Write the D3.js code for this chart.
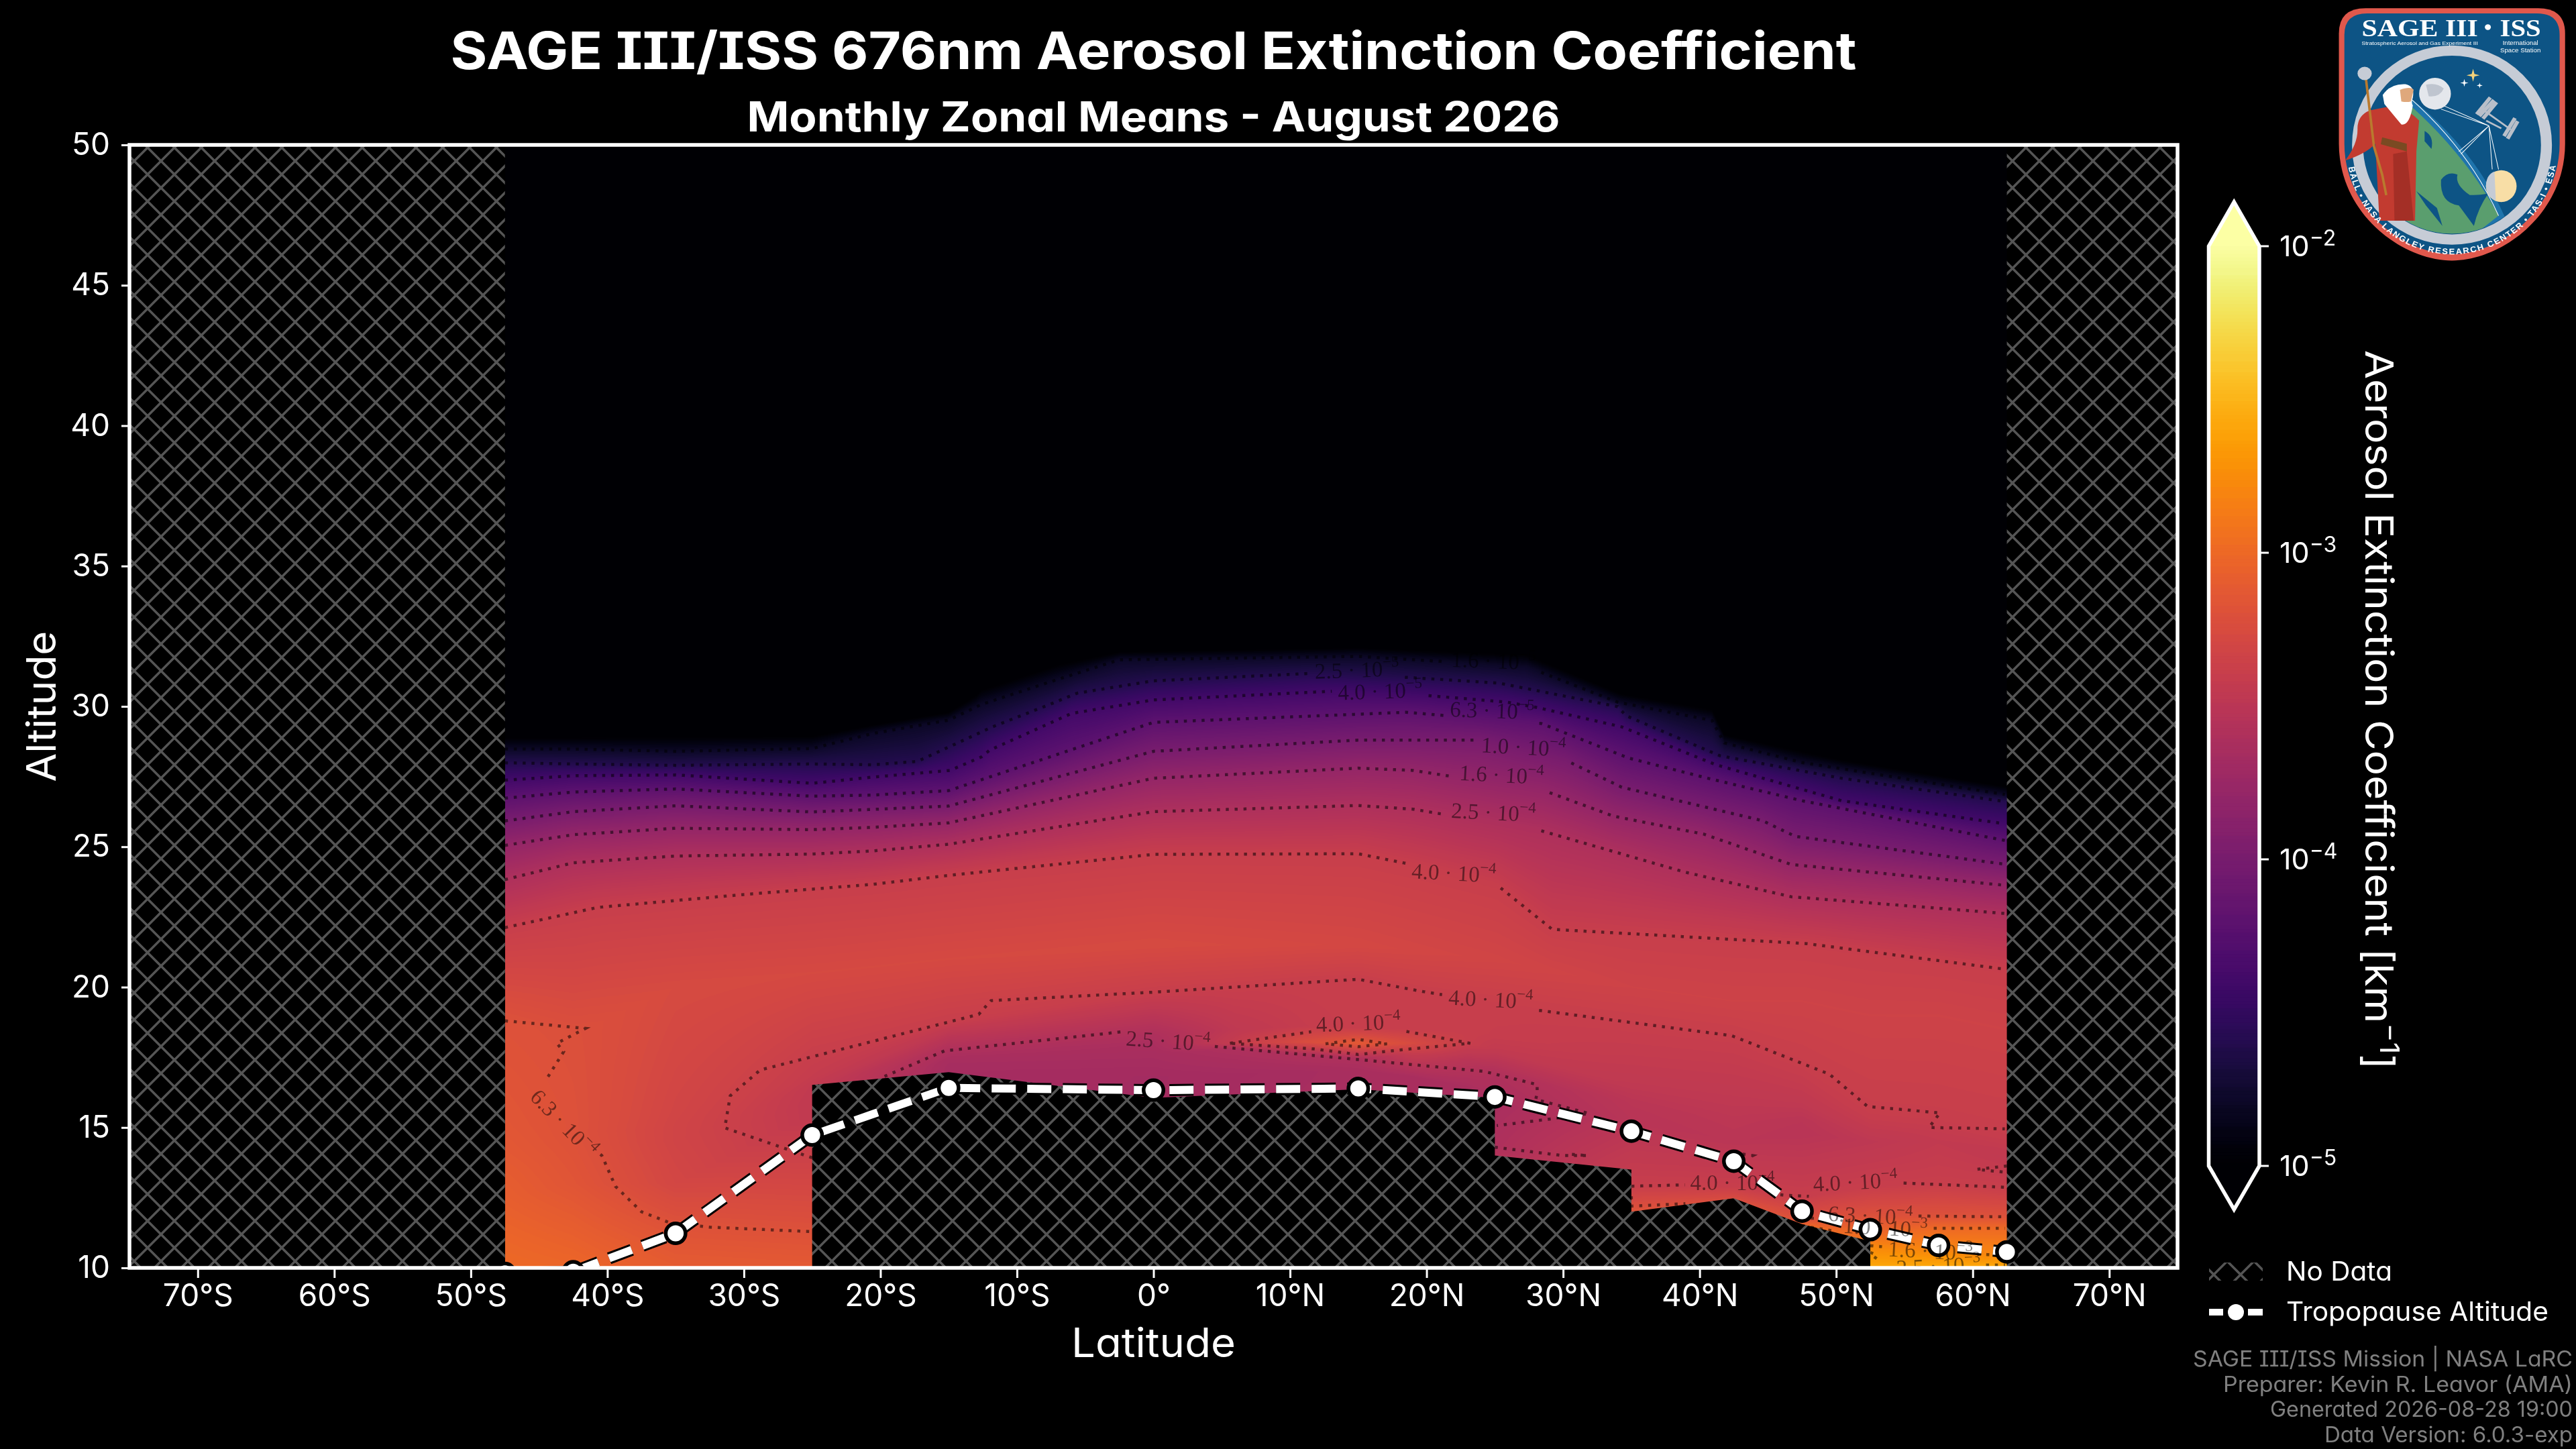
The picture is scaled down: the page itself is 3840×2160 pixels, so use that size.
<!DOCTYPE html>
<html lang="en">
<head>
<meta charset="UTF-8">
<title>SAGE III/ISS 676nm Aerosol Extinction Coefficient</title>
<script src="https://d3js.org/d3.v7.min.js"></script>
<style>
  html, body { margin: 0; background: #000; }
  #chart { position: relative; width: 3840px; height: 2160px; overflow: hidden; }
  canvas, svg { position: absolute; left: 0; top: 0; }
  text { font-family: Inter, "Noto Sans", sans-serif; font-feature-settings: "cv11" 1, "cv08" 1; fill: #fff; }
  .axis path { display: none; }
  .axis line { stroke: #fff; stroke-width: 3; }
  .axis text { font-size: 46px; }
  text.math { font-family: "Liberation Serif", serif; font-feature-settings: normal; fill: rgba(0,0,0,0.5); font-size: 33px; }
</style>
</head>
<body>
<div id="chart"></div>
<script>
// ---- tick labels ----
var latTicks = [-70, -60, -50, -40, -30, -20, -10, 0, 10, 20, 30, 40, 50, 60, 70];
var altTicks = [10, 15, 20, 25, 30, 35, 40, 45, 50];
var barTicks = [1e-5, 1e-4, 1e-3, 1e-2];

// ---- tropopause ----
var tropLat = [-47.5, -42.5, -35, -25, -15, 0, 15, 25, 35, 42.5, 47.5, 52.5, 57.5, 62.5];
var tropAlt = [9.8, 9.86, 11.23, 14.73, 16.41, 16.33, 16.39, 16.09, 14.87, 13.8, 12.02, 11.36, 10.8, 10.57];

// ---- no-data floor, lat/alt ----
var floorOutline = [[-25, 10], [-25, 16.52], [-15, 16.97], [0, 16.06], [15, 16.36], [25, 16.06], [25, 14], [35, 13.5], [35, 12], [42.5, 12.48], [47.5, 11.56], [52.5, 10.95], [52.5, 10]];

// ---- upper contours, top to bottom ----
var upperLevels = [1.6e-5, 2.5e-5, 4e-5, 6.3e-5, 1e-4, 1.6e-4, 2.5e-4, 4e-4];
var upperNames = ["1.6-5", "2.5-5", "4.0-5", "6.3-5", "1.0-4", "1.6-4", "2.5-4", "4.0-4"];
var fadeLine = [[-47.5, 28.9], [-25, 28.95], [-20.6, 29.35], [-15, 29.8], [-13, 30.4], [-12.6, 30.6], [-7, 31.5], [-2.5, 31.95], [15, 32.1], [27.3, 31.85], [34.3, 30.45], [40.9, 29.9], [41.8, 29], [50.4, 28.1], [62.5, 27.15]];
var upperLines = [
  [[-47.5, 28.48], [-42.5, 28.48], [-35, 28.4], [-25, 28.5], [-20.6, 29.03], [-15, 29.51], [-12.6, 30.07], [-7.6, 30.87], [-2.5, 31.66], [15, 31.78], [27.3, 31.42], [34, 30.15], [40.9, 29.5], [41.8, 28.7], [47.5, 28], [62.5, 26.85]],
  [[-47.5, 27.99], [-42.5, 27.95], [-35, 27.9], [-25, 27.95], [-20.6, 27.92], [-17.3, 28.04], [-14.6, 28.64], [-11.8, 29.27], [-7.6, 30.07], [-5.6, 30.47], [0, 30.91], [11.7, 31.18], [18.7, 31.03], [25.3, 30.83], [34, 29.99], [34.6, 29.67], [41.5, 28.24], [50.4, 27.44], [62.5, 26.6]],
  [[-47.5, 27.37], [-42.5, 27.53], [-35, 27.56], [-25, 27.26], [-20.6, 27.48], [-14.9, 27.72], [-12.6, 28.2], [-12, 28.44], [-6, 29.75], [0, 30.23], [13.5, 30.55], [20, 30.39], [25.9, 30.15], [28.2, 29.95], [34.3, 29.27], [41.2, 27.92], [50.4, 26.64], [62.5, 25.81]],
  [[-47.5, 26.73], [-42.5, 26.95], [-35, 27.06], [-25, 26.8], [-20.6, 26.84], [-15, 27], [0, 29.43], [18.5, 29.79], [28.4, 29.39], [34.8, 28.16], [40.6, 27.44], [47.5, 26.64], [62.5, 25.21]],
  [[-47.5, 25.92], [-42.5, 26.25], [-35, 26.46], [-25, 26.24], [-20.6, 26.33], [-15, 26.45], [0, 28.4], [15, 28.8], [23.9, 28.8], [30.2, 28.08], [34.3, 27.12], [44.6, 25.93], [47, 25.37], [62.5, 24.37]],
  [[-47.5, 25.05], [-42.5, 25.43], [-35, 25.66], [-25, 25.61], [-20.6, 25.69], [-15, 25.85], [0, 27.44], [15, 27.8], [19, 27.72], [28.6, 27], [33.7, 26.09], [40.3, 25.45], [46.7, 24.37], [62.5, 23.62]],
  [[-47.5, 23.83], [-42.5, 24.43], [-35, 24.67], [-25, 24.74], [-20.6, 24.85], [-15, 25.09], [0, 26.25], [15, 26.47], [19, 26.34], [28.4, 25.57], [38.9, 24.1], [46.7, 23.22], [62.5, 22.62]],
  [[-47.5, 22.12], [-40.7, 22.84], [-30, 23.3], [-20.6, 23.66], [-15, 23.98], [0, 24.73], [15, 24.75], [19, 24.36], [25.2, 23.62], [29.2, 22.06], [47.85, 21.55], [62.5, 20.63]]
];

// ---- field below the 4e-4 contour: altitude and value of each row, per latitude ----
var lowLats = [-47.5, -42.5, -35, -25, -15, 0, 15, 25, 35, 42.5, 47.5, 52.5, 57.5, 62.5];
var coreAlt = [18.8, 18.3, 20, 20.5, 21, 21.5, 21.5, 21, 20, 19.5, 19.5, 19, 19, 18.5];
var coreExt = [6.3e-4, 6.1e-4, 5.4e-4, 5.3e-4, 5.3e-4, 5.4e-4, 5.1e-4, 4.8e-4, 4.5e-4, 4.5e-4, 4.5e-4, 4.5e-4, 4.5e-4, 4.5e-4];
var midLats = [-47.5, -42.5, -35, -25, -15, 0, 6, 11, 15, 19, 23, 25, 35, 42.5, 47.5, 52.5, 57.5, 62.5];
var bandAlt = [15, 15.2, 15.5, 17.5, 18.76, 19.82, 20, 20.2, 20.28, 19.87, 19.55, 19.4, 18.7, 18.27, 17.3, 15.75, 15.5, 14.95];
var bandExt = [7e-4, 6.3e-4, 4.8e-4, 4e-4, 4e-4, 4e-4, 4e-4, 4e-4, 4e-4, 4e-4, 4e-4, 4e-4, 4e-4, 4e-4, 4e-4, 4e-4, 4e-4, 4e-4];
var aboveAlt = [14.5, 14.8, 15, 16.8, 18.3, 18.3, 18.5, 18.6, 18.55, 18.5, 18.4, 18.3, 17.5, 17.2, 16.5, 15.4, 15.2, 14.7];
var aboveExt = [7.2e-4, 6.3e-4, 4.7e-4, 3.8e-4, 3.2e-4, 2.5e-4, 3.4e-4, 3.8e-4, 4e-4, 4e-4, 4e-4, 3.9e-4, 3.7e-4, 3.7e-4, 3.7e-4, 3.9e-4, 3.9e-4, 3.9e-4];
var ridgeAlt = [14, 14.4, 14.5, 16.5, 17.73, 18, 18, 18.05, 18, 18, 18, 17.8, 16.5, 16, 15.8, 15.1, 15, 14.5];
var ridgeExt = [7.4e-4, 6.4e-4, 4.7e-4, 3.6e-4, 2.5e-4, 2.35e-4, 3.8e-4, 5.6e-4, 7.3e-4, 5.4e-4, 4e-4, 3.6e-4, 3.4e-4, 3.4e-4, 3.4e-4, 3.7e-4, 3.8e-4, 3.8e-4];
var underAlt = [13.5, 14, 14, 16, 17.4, 17.6, 17.8, 17.6, 17.45, 17.6, 17.4, 16.9, 15.9, 15.2, 15.3, 14.8, 14.8, 14.2];
var underExt = [7.7e-4, 6.5e-4, 4.8e-4, 3.5e-4, 2.25e-4, 2.25e-4, 2.5e-4, 2.6e-4, 2.5e-4, 3.7e-4, 3e-4, 2.55e-4, 3.1e-4, 3.2e-4, 3.1e-4, 3.5e-4, 3.7e-4, 3.6e-4];
var troughAlt = [12.5, 13, 13, 15.5, 17.2, 16.8, 16.9, 17, 17, 16.8, 16.4, 15.8, 15.3, 14.5, 14.8, 14.5, 14.5, 13.9];
var troughExt = [8.2e-4, 6.8e-4, 5e-4, 3.5e-4, 2.2e-4, 2.1e-4, 2.15e-4, 2.2e-4, 2.3e-4, 2.3e-4, 2.3e-4, 2.3e-4, 3e-4, 3.1e-4, 3e-4, 3.3e-4, 3.6e-4, 3.5e-4];
var row1Alt = [11, 11, 11.6, 11.3, 16.4, 16, 16, 14.3, 12.9, 12.9, 12.5, 12.9, 13, 12.87];
var row1Ext = [9.3e-4, 8.5e-4, 6.3e-4, 6.3e-4, 2.1e-4, 2.1e-4, 2.3e-4, 2.5e-4, 4e-4, 4e-4, 4e-4, 4e-4, 4e-4, 4e-4];
var row2Alt = [10, 10, 10, 10, 10, 10, 10, 13.8, 12, 12.3, 11.7, 11.8, 11.85, 11.82];
var row2Ext = [1e-3, 9.5e-4, 7.8e-4, 7.5e-4, 3e-4, 3e-4, 3e-4, 3e-4, 6.5e-4, 6.3e-4, 6.3e-4, 6.3e-4, 6.3e-4, 6.3e-4];
var row3Alt = [10, 10, 10, 10, 10, 10, 10, 10, 10, 10, 11.5, 11.2, 11.41, 11.41];
var row3Ext = [1e-3, 9.5e-4, 7.8e-4, 7.5e-4, 3e-4, 3e-4, 3e-4, 4e-4, 8e-4, 1e-3, 1e-3, 1e-3, 1e-3, 1e-3];
var row4Alt = [10, 10, 10, 10, 10, 10, 10, 10, 10, 10, 10, 10.79, 10.6, 10.45];
var row4Ext = [1e-3, 9.5e-4, 7.8e-4, 7.5e-4, 3e-4, 3e-4, 3e-4, 4e-4, 8e-4, 1e-3, 1.4e-3, 1.6e-3, 1.6e-3, 1.6e-3];
var row5Ext = [1e-3, 9.5e-4, 7.8e-4, 7.5e-4, 3e-4, 3e-4, 3e-4, 4e-4, 8e-4, 1e-3, 2e-3, 2.6e-3, 2.7e-3, 2.7e-3];

// ---- lower contours ----
var lowerLines = [
  { name: "4.0-4", pts: [[-25, 13.92], [-31.4, 14.99], [-31, 16.13], [-28.8, 17.05], [-12.8, 19.03], [-11.9, 19.52], [0, 19.82], [15, 20.28], [19.4, 19.87], [27.8, 19.2], [42.35, 18.27], [49.5, 16.9], [52.3, 15.75], [57.6, 15.52], [56.8, 15], [62.5, 14.95]] },
  { name: "2.5-4", pts: [[-19.7, 16.82], [-15.3, 17.73], [-2.1, 18.42], [4.2, 17.9], [13.7, 17.48], [24.2, 17], [28.1, 16.53], [28.1, 16.25], [28, 16], [31.9, 15.5], [29, 15.3], [25, 15.06]] },
  { name: "2.5-4", pts: [[25, 14.3], [27.6, 14.14], [30, 14], [31.8, 14], [30.5, 14.05]] },
  { name: "4.0-4", pts: [[5.6, 18], [11.7, 18.42], [18.1, 18.46], [23.2, 18], [18, 17.76], [15, 17.6], [11.7, 17.8], [5.6, 18]] },
  { name: "6.3-4", pts: [[12.6, 17.98], [15, 18.14], [17.1, 17.98], [15, 17.88], [12.6, 17.98]] },
  { name: "6.3-4", pts: [[-47.5, 18.8], [-41.6, 18.53], [-43.7, 18.0], [-43.2, 17.7], [-45, 16.3], [-43.2, 15.15], [-40.4, 14], [-39.4, 12.9], [-37.5, 12], [-35.4, 11.6], [-32.5, 11.45], [-25, 11.29]] },
  { name: "4.0-4", pts: [[35, 12.91], [39.2, 12.96], [46.2, 12.59], [48, 12.55], [54.5, 13.03], [62.5, 12.87]] },
  { name: "4.0-4", pts: [[62.5, 13.63], [60.3, 13.51], [62.5, 13.4]] },
  { name: "4.0-4", pts: [[42.5, 14.1], [43.9, 14], [43.5, 13.9]] },
  { name: "6.3-4", pts: [[35, 12.55], [35, 12.2], [39.1, 12.29]] },
  { name: "6.3-4", pts: [[47.5, 11.75], [52.5, 11.86], [62.5, 11.82]] },
  { name: "1.0-3", pts: [[47.5, 11.5], [51.2, 11.2], [53.6, 11.43], [57, 11.41], [62.5, 11.41]] },
  { name: "1.6-3", pts: [[52.5, 10.79], [53.5, 10.75], [56.9, 10.6], [62.5, 10.43]] },
  { name: "2.5-3", pts: [[52.5, 10.55], [53, 10.45], [52.5, 10.1]] },
  { name: "2.5-3", pts: [[60.7, 10.1], [62.5, 10.1]] }
];

// ---- contour labels ----
var labelNames = ["1.6-5", "2.5-5", "4.0-5", "6.3-5", "1.0-4", "1.6-4", "2.5-4", "4.0-4", "4.0-4", "4.0-4", "2.5-4", "4.0-4", "4.0-4", "6.3-4", "1.0-3", "1.6-3", "2.5-3", "6.3-4"];
var labelLats = [24.9, 14.9, 16.6, 24.8, 27.1, 25.5, 24.9, 22, 24.7, 15, 1.07, 42.4, 51.4, 52.5, 53.6, 56.9, 57.5, -43.2];
var labelAlts = [31.62, 31.3, 30.54, 29.85, 28.55, 27.56, 26.22, 24.06, 19.56, 18.72, 18.08, 13.03, 13.06, 11.86, 11.43, 10.6, 10.07, 15.15];
var labelRots = [2, -2, -2, 2, 3, 3, 3, 3, 3, -2, 4, 0, -3, 3, 3, 3, -3, 46];

var W = 3840, H = 2160;
var plot = { left: 193, right: 3246, top: 216, bottom: 1890 };

var x = d3.scaleLinear().domain([-75, 75]).range([plot.left, plot.right]);
var y = d3.scaleLinear().domain([10, 50]).range([plot.bottom, plot.top]);
var color = d3.scaleSequentialLog(d3.interpolateInferno).domain([1e-5, 1e-2]).clamp(true);

// heat surface
var chart = d3.select("#chart");
var canvas = chart.append("canvas").attr("width", W).attr("height", H).node();
var ctx = canvas.getContext("2d");

function makeRow(lats, alts, exts) {
  return {
    alt: d3.scaleLinear().domain(lats).range(alts),
    val: d3.scaleLinear().domain(lats).range(exts.map(Math.log10))
  };
}
var rows = [];
rows.push(makeRow(fadeLine.map(d => d[0]), fadeLine.map(d => d[1]), fadeLine.map(() => 1e-5)));
upperLines.forEach(function (pts, i) {
  rows.push(makeRow(pts.map(d => d[0]), pts.map(d => d[1]), pts.map(() => upperLevels[i])));
});
rows.push(makeRow(lowLats, coreAlt, coreExt));
rows.push(makeRow(midLats, bandAlt, bandExt));
rows.push(makeRow(midLats, aboveAlt, aboveExt));
rows.push(makeRow(midLats, ridgeAlt, ridgeExt));
rows.push(makeRow(midLats, underAlt, underExt));
rows.push(makeRow(midLats, troughAlt, troughExt));
rows.push(makeRow(lowLats, row1Alt, row1Ext));
rows.push(makeRow(lowLats, row2Alt, row2Ext));
rows.push(makeRow(lowLats, row3Alt, row3Ext));
rows.push(makeRow(lowLats, row4Alt, row4Ext));
rows.push(makeRow(lowLats, lowLats.map(() => 10), row5Ext));

// colour table over log10 extinction
var lutSize = 2048;
var lut = d3.range(lutSize).map(function (i) {
  return d3.rgb(color(Math.pow(10, -5 + 3 * i / (lutSize - 1))));
});

var px0 = Math.round(x(-47.5)), px1 = Math.round(x(62.5));
var py0 = plot.top, py1 = plot.bottom;
var img = ctx.createImageData(px1 - px0, py1 - py0);
for (var px = px0; px < px1; px++) {
  var lat = x.invert(px + 0.5);
  var anchors = rows.map(function (r) { return [r.alt(lat), r.val(lat)]; });
  anchors.sort(function (a, b) { return b[0] - a[0]; });
  var k = 0;
  for (var py = py0; py < py1; py++) {
    var a = y.invert(py + 0.5), v;
    while (k < anchors.length - 1 && a < anchors[k + 1][0]) k++;
    if (a >= anchors[0][0]) v = -5;
    else if (k >= anchors.length - 1) v = anchors[anchors.length - 1][1];
    else {
      var hi = anchors[k], lo = anchors[k + 1];
      var f = hi[0] === lo[0] ? 0 : (hi[0] - a) / (hi[0] - lo[0]);
      v = hi[1] + (lo[1] - hi[1]) * f;
    }
    var c = lut[Math.max(0, Math.min(lutSize - 1, Math.round((v + 5) / 3 * (lutSize - 1))))];
    var o = ((py - py0) * (px1 - px0) + (px - px0)) * 4;
    img.data[o] = c.r; img.data[o + 1] = c.g; img.data[o + 2] = c.b; img.data[o + 3] = 255;
  }
}
ctx.putImageData(img, px0, py0);

var svg = chart.append("svg").attr("width", W).attr("height", H);
var defs = svg.append("defs");

var hatch = defs.append("pattern").attr("id", "hatch")
  .attr("patternUnits", "userSpaceOnUse").attr("width", 40).attr("height", 40);
hatch.append("rect").attr("width", 40).attr("height", 40).attr("fill", "#000");
hatch.append("path").attr("d", "M-4,-4L44,44M-4,44L44,-4")
  .attr("stroke", "#555").attr("stroke-width", 3.5).attr("fill", "none");

defs.append("clipPath").attr("id", "plotClip").append("rect")
  .attr("x", plot.left).attr("y", plot.top)
  .attr("width", plot.right - plot.left).attr("height", plot.bottom - plot.top);

var inner = svg.append("g").attr("clip-path", "url(#plotClip)");

// contours, with a gap under the label of the same level
var labels = labelNames.map(function (n, i) {
  return { name: n, px: x(labelLats[i]), py: y(labelAlts[i]), rot: labelRots[i] };
});
function inGap(name, p) {
  return labels.some(function (l) {
    if (l.name !== name) return false;
    var t = -l.rot * Math.PI / 180, dx = p[0] - l.px, dy = p[1] - l.py;
    var u = dx * Math.cos(t) - dy * Math.sin(t), w = dx * Math.sin(t) + dy * Math.cos(t);
    return Math.abs(u) < 70 && Math.abs(w) < 24;
  });
}
function resample(name, pts) {
  var out = [];
  for (var i = 0; i < pts.length - 1; i++) {
    var a = [x(pts[i][0]), y(pts[i][1])], b = [x(pts[i + 1][0]), y(pts[i + 1][1])];
    var n = Math.max(1, Math.ceil(Math.hypot(b[0] - a[0], b[1] - a[1]) / 3));
    for (var j = 0; j < n; j++) {
      var p = [a[0] + (b[0] - a[0]) * j / n, a[1] + (b[1] - a[1]) * j / n];
      p.gap = inGap(name, p);
      out.push(p);
    }
  }
  return out;
}
var contourLine = d3.line().defined(d => !d.gap);
var allLines = upperLines.map(function (pts, i) { return { name: upperNames[i], pts: pts }; }).concat(lowerLines);
inner.append("g").selectAll("path").data(allLines).enter().append("path")
  .attr("d", d => contourLine(resample(d.name, d.pts)))
  .attr("fill", "none").attr("stroke", "rgba(0,0,0,0.52)")
  .attr("stroke-width", 4.5).attr("stroke-dasharray", "4.5 8.7");

// no data
inner.append("rect").attr("x", x(-75)).attr("y", plot.top)
  .attr("width", x(-47.5) - x(-75)).attr("height", plot.bottom - plot.top).attr("fill", "url(#hatch)");
inner.append("rect").attr("x", x(62.5)).attr("y", plot.top)
  .attr("width", x(75) - x(62.5)).attr("height", plot.bottom - plot.top).attr("fill", "url(#hatch)");
inner.append("path")
  .attr("d", d3.line().x(d => x(d[0])).y(d => y(d[1]))(floorOutline) + "Z")
  .attr("fill", "url(#hatch)");

// tropopause
var tropLine = d3.line().x(d => x(d[0])).y(d => y(d[1]));
var tropData = d3.zip(tropLat, tropAlt);
inner.append("path").attr("d", tropLine(tropData)).attr("fill", "none")
  .attr("stroke", "#000").attr("stroke-width", 18).attr("stroke-dasharray", "36 17");
inner.append("path").attr("d", tropLine(tropData)).attr("fill", "none")
  .attr("stroke", "#fff").attr("stroke-width", 12).attr("stroke-dasharray", "36 17");
inner.append("g").selectAll("circle").data(tropData).enter().append("circle")
  .attr("cx", d => x(d[0])).attr("cy", d => y(d[1])).attr("r", 14.75)
  .attr("fill", "#fff").attr("stroke", "#000").attr("stroke-width", 5.5);

// contour labels
var lab = inner.append("g").selectAll("text").data(labels).enter().append("text")
  .attr("class", "math").attr("text-anchor", "middle")
  .attr("transform", d => "translate(" + d.px + "," + d.py + ") rotate(" + d.rot + ")")
  .attr("y", 11).attr("textLength", 126).attr("lengthAdjust", "spacingAndGlyphs");
lab.append("tspan").text(d => d.name.split("-")[0] + " \u00b7 10");
lab.append("tspan").attr("dy", -14).attr("font-size", 23).text(d => "\u2212" + d.name.split("-")[1]);

// spines and axes
svg.append("rect").attr("x", plot.left).attr("y", plot.top)
  .attr("width", plot.right - plot.left).attr("height", plot.bottom - plot.top)
  .attr("fill", "none").attr("stroke", "#fff").attr("stroke-width", 5.5);

function latLabel(d) {
  if (d === 0) return "0\u00b0";
  return Math.abs(d) + "\u00b0" + (d < 0 ? "S" : "N");
}
svg.append("g").attr("class", "axis").attr("transform", "translate(0," + plot.bottom + ")")
  .call(d3.axisBottom(x).tickValues(latTicks).tickFormat(latLabel).tickSize(15).tickPadding(9));
svg.append("g").attr("class", "axis").attr("transform", "translate(" + plot.left + ",0)")
  .call(d3.axisLeft(y).tickValues(altTicks).tickSize(12).tickPadding(17));

// titles
function label(txt, xp, yp, size, weight, anchor, len, fill) {
  var t = svg.append("text").attr("x", xp).attr("y", yp).attr("font-size", size)
    .attr("font-weight", weight).attr("text-anchor", anchor).text(txt);
  if (len) t.attr("textLength", len).attr("lengthAdjust", "spacingAndGlyphs");
  if (fill) t.style("fill", fill);
  return t;
}
label("SAGE III/ISS 676nm Aerosol Extinction Coefficient", 1719.5, 103, 77, 700, "middle", 2096);
label("Monthly Zonal Means - August 2026", 1719.5, 196, 62, 700, "middle", 1212);
label("Latitude", 1719.5, 2023, 60, 400, "middle", 245);
svg.append("text").attr("transform", "translate(83,1053) rotate(-90)").attr("text-anchor", "middle")
  .attr("font-size", 60).attr("textLength", 225).attr("lengthAdjust", "spacingAndGlyphs").text("Altitude");

// colour bar
var bar = { left: 3292.5, right: 3368, tipTop: 301, tipBottom: 1803 };
var yBar = d3.scaleLog().domain([1e-5, 1e-2]).range([1738, 367]);
var barSteps = d3.range(0, 256).map(i => Math.pow(10, -5 + 3 * i / 256));
svg.append("g").selectAll("rect").data(barSteps).enter().append("rect")
  .attr("x", bar.left).attr("width", bar.right - bar.left)
  .attr("y", d => yBar(d * Math.pow(10, 3 / 256)) - 0.5)
  .attr("height", d => yBar(d) - yBar(d * Math.pow(10, 3 / 256)) + 1)
  .attr("fill", d => color(d));
var mid = (bar.left + bar.right) / 2;
svg.append("path").attr("d", "M" + bar.left + "," + yBar(1e-2) + "L" + mid + "," + bar.tipTop + "L" + bar.right + "," + yBar(1e-2) + "Z").attr("fill", color(1e-2));
svg.append("path").attr("d", "M" + bar.left + "," + yBar(1e-5) + "L" + mid + "," + bar.tipBottom + "L" + bar.right + "," + yBar(1e-5) + "Z").attr("fill", color(1e-5));
svg.append("path")
  .attr("d", "M" + bar.left + "," + yBar(1e-5) + "L" + mid + "," + bar.tipBottom + "L" + bar.right + "," + yBar(1e-5) + "V" + yBar(1e-2) + "L" + mid + "," + bar.tipTop + "L" + bar.left + "," + yBar(1e-2) + "Z")
  .attr("fill", "none").attr("stroke", "#fff").attr("stroke-width", 5.5);
var barTick = svg.append("g").selectAll("g").data(barTicks).enter().append("g")
  .attr("transform", d => "translate(" + bar.right + "," + yBar(d) + ")");
barTick.append("line").attr("x2", 14).attr("stroke", "#fff").attr("stroke-width", 3);
var barText = barTick.append("text").attr("x", 30).attr("y", 15).attr("font-size", 43);
barText.append("tspan").text("10");
barText.append("tspan").attr("dy", -16).attr("font-size", 32).text(d => "\u2212" + Math.round(-Math.log10(d)));

var barLabel = svg.append("text").attr("transform", "translate(3526,1058) rotate(90)")
  .attr("text-anchor", "middle").attr("font-size", 58)
  .attr("textLength", 1072).attr("lengthAdjust", "spacingAndGlyphs");
barLabel.append("tspan").text("Aerosol Extinction Coefficient [km");
barLabel.append("tspan").attr("dy", -22).attr("font-size", 40).text("\u22121");
barLabel.append("tspan").attr("dy", 22).text("]");

// legend
svg.append("rect").attr("x", 3293).attr("y", 1882).attr("width", 80).attr("height", 27).attr("fill", "url(#hatch)");
label("No Data", 3408, 1909, 39, 400, "start", 158);
svg.append("path").attr("d", "M3293,1956H3314M3351,1956H3373").attr("stroke", "#fff").attr("stroke-width", 10);
svg.append("circle").attr("cx", 3333).attr("cy", 1956).attr("r", 12).attr("fill", "#fff");
label("Tropopause Altitude", 3408, 1969, 39, 400, "start", 391);

// credits
var creditLines = ["SAGE III/ISS Mission | NASA LaRC", "Preparer: Kevin R. Leavor (AMA)", "Generated 2026-08-28 19:00", "Data Version: 6.0.3-exp"];
var creditWidths = [566, 521, 451, 370];
var creditBase = [2037, 2075, 2112, 2150];
creditLines.forEach(function (t, i) {
  label(t, 3835, creditBase[i], 32, 400, "end", creditWidths[i], "#808080");
});

// mission patch, drawn in the reference crop's own units
var logo = svg.append("g").attr("transform", "translate(3200,0) scale(0.4082,0.3827)");
var shield = "M800,32H1430Q1528,32 1528,130V560C1528,830 1300,1015 1115,1015C930,1015 702,830 702,560V130Q702,32 800,32Z";
logo.append("path").attr("d", shield).attr("fill", "#E0584C");
logo.append("path").attr("d", "M805,52H1425Q1508,52 1508,135V560C1508,815 1290,990 1115,990C940,990 722,815 722,560V135Q722,52 805,52Z").attr("fill", "#0D5485");
defs.append("clipPath").attr("id", "globeClip").append("ellipse").attr("cx", 1115).attr("cy", 565).attr("rx", 325).attr("ry", 345);
var disc = logo.append("g").attr("clip-path", "url(#globeClip)");
disc.append("path").attr("d", "M950,370Q1200,580 1310,850L1180,920L900,900Z").attr("fill", "#1F74AC");
disc.append("path").attr("d", "M930,380Q1160,590 1285,840L1190,920L880,900Z").attr("fill", "#5A9E6E");
disc.append("path").attr("d", "M1075,700Q1100,665 1135,680Q1125,720 1180,760Q1240,760 1250,750Q1210,810 1195,880L1140,800Q1070,790 1075,700Z").attr("fill", "#0D5485");
disc.append("path").attr("d", "M1015,510Q1050,530 1040,580L1015,550Z").attr("fill", "#0D5485");
disc.append("path").attr("d", "M985,745L1060,810L1080,880L1020,800Z").attr("fill", "#0D5485");
logo.append("ellipse").attr("cx", 1115).attr("cy", 565).attr("rx", 345).attr("ry", 368)
  .attr("fill", "none").attr("stroke", "#C6CCD6").attr("stroke-width", 40);
logo.append("path").attr("d", "M965,385Q1180,590 1285,840").attr("fill", "none").attr("stroke", "#fff").attr("stroke-width", 2.5);
logo.append("path").attr("d", "M1250,490L1060,400M1250,490L1075,425M1250,490L1140,590M1250,490L1148,600M1250,490L1262,660M1250,490L1285,660")
  .attr("fill", "none").attr("stroke", "#fff").attr("stroke-width", 2.5);
logo.append("ellipse").attr("cx", 1053).attr("cy", 365).attr("rx", 58).attr("ry", 62).attr("fill", "#E4E7EC");
logo.append("path").attr("d", "M1020,330Q1060,320 1085,345Q1070,380 1030,375Z").attr("fill", "#BFC5CF");
logo.append("ellipse").attr("cx", 1295).attr("cy", 725).attr("rx", 56).attr("ry", 62).attr("fill", "#F8DEA6");
logo.append("path").attr("d", "M1239,725Q1240,680 1270,668L1275,780Q1245,770 1239,725Z").attr("fill", "#C5CBD5");
logo.append("path").attr("d", "M1192,268L1197,288L1216,293L1197,298L1192,318L1187,298L1168,293L1187,288Z").attr("fill", "#F4D27A");
logo.append("path").attr("d", "M1160,308L1163,320L1175,323L1163,326L1160,338L1157,326L1145,323L1157,320Z M1216,322L1218,330L1227,333L1218,336L1216,344L1214,336L1205,333L1214,330Z").attr("fill", "#fff");
// station
var iss = logo.append("g").attr("stroke", "#B9BFC9").attr("fill", "none");
iss.append("path").attr("d", "M1255,380L1205,445M1268,390L1215,452M1278,398L1228,462").attr("stroke-width", 14);
iss.append("path").attr("d", "M1345,460L1305,530M1355,472L1318,540").attr("stroke-width", 14);
iss.append("path").attr("d", "M1225,425L1330,505M1240,470L1295,500").attr("stroke-width", 7);
// wizard
logo.append("path").attr("d", "M815,430Q770,450 770,500Q772,560 725,625Q800,600 835,560L850,860L980,860L985,590L995,470Q960,430 910,410Z").attr("fill", "#C23B30");
logo.append("path").attr("d", "M900,600L950,590L975,860L905,860Z").attr("fill", "#A42F26");
logo.append("path").attr("d", "M860,535L950,560L950,590L855,562Z").attr("fill", "#7A4A22");
logo.append("path").attr("d", "M862,370Q890,325 945,328Q980,335 972,380Q965,400 972,410Q960,490 930,485Q895,440 868,405Z").attr("fill", "#fff");
logo.append("path").attr("d", "M925,350Q965,335 975,350L965,395Q950,400 930,395Z").attr("fill", "#DFA87C");
logo.append("path").attr("d", "M800,300L830,570L860,680L875,760").attr("fill", "none").attr("stroke", "#B97A2E").attr("stroke-width", 9);
logo.append("circle").attr("cx", 796).attr("cy", 286).attr("r", 26).attr("fill", "#C6CCD6");
// patch lettering
function patchText(t, px, py, size, anchor, family, weight, len) {
  var n = logo.append("text").attr("x", px).attr("y", py).attr("text-anchor", anchor)
    .attr("font-size", size).attr("font-weight", weight).text(t)
    .style("font-family", family).style("font-feature-settings", "normal");
  if (len) n.attr("textLength", len).attr("lengthAdjust", "spacingAndGlyphs");
}
patchText("SAGE III", 785, 140, 92, "start", "Liberation Serif", 700, 425);
patchText("ISS", 1290, 140, 92, "start", "Liberation Serif", 700, 150);
logo.append("circle").attr("cx", 1246).attr("cy", 106).attr("r", 11).attr("fill", "#fff");
patchText("Stratospheric Aerosol and Gas Experiment III", 785, 176, 21, "start", "Liberation Sans", 400, 425);
patchText("International", 1365, 175, 23, "middle", "Liberation Sans", 400, 130);
patchText("Space Station", 1365, 205, 23, "middle", "Liberation Sans", 400, 148);
defs.append("path").attr("id", "patchArc").attr("d", "M735,640A385,418 0 0 0 1495,640");
logo.append("text").attr("font-size", 32).attr("font-weight", 700)
  .style("font-family", "Liberation Sans").style("font-feature-settings", "normal")
  .append("textPath").attr("href", "#patchArc").attr("startOffset", "1%")
  .attr("textLength", 1110).text("BALL \u2022 NASA LANGLEY RESEARCH CENTER \u2022 TAS-I \u2022 ESA");
</script>
</body>
</html>
